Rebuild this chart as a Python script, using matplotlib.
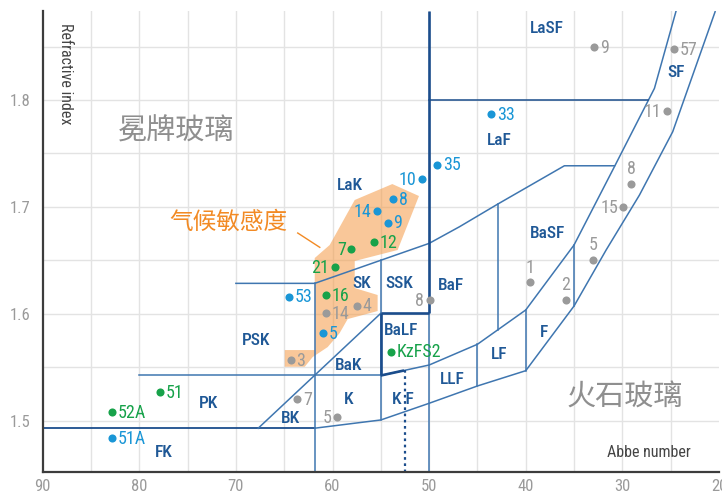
import matplotlib
matplotlib.use("Agg")
import matplotlib.pyplot as plt
from matplotlib import font_manager

# ---------------- data ----------------
XLIM = (90, 20)
YLIM = (1.4523, 1.8833)

# glass points: (label, abbe, nd, label side)
blue_labels = ["51A", "53", "5", "14", "8", "9", "10", "35", "33"]
blue_x = [82.86, 64.50, 60.98, 55.43, 53.74, 54.29, 50.74, 49.15, 43.57]
blue_y = [1.4835, 1.6160, 1.5817, 1.6962, 1.7071, 1.6852, 1.7258, 1.7395, 1.7866]
blue_side = ["r", "r", "r", "l", "r", "r", "l", "r", "r"]

green_labels = ["51", "52A", "7", "12", "21", "16", "KzFS2"]
green_x = [77.87, 82.86, 58.05, 55.71, 59.77, 60.63, 53.91]
green_y = [1.5266, 1.5079, 1.6603, 1.6669, 1.6435, 1.6176, 1.5645]
green_side = ["r", "r", "l", "r", "l", "r", "r"]

gray_labels = ["3", "7", "5", "14", "4", "8", "1", "2", "5", "15", "8", "11", "57", "9"]
gray_x = [64.32, 63.63, 59.53, 60.63, 57.43, 49.95, 39.61, 35.88, 33.06, 29.89, 29.09, 25.37, 24.61, 32.89]
gray_y = [1.5568, 1.5203, 1.5032, 1.6005, 1.6076, 1.6129, 1.6295, 1.6129, 1.6503, 1.6996, 1.7214, 1.7897, 1.8474, 1.8496]
gray_side = ["r", "r", "l", "r", "r", "l", "t", "t", "t", "l", "t", "l", "r", "r"]

# glass family region labels
region_names = ["LaSF", "SF", "LaF", "LaK", "BaSF", "BaF", "SK", "SSK", "PSK", "BaLF",
                "BaK", "K", "K F", "BK", "PK", "FK", "LLF", "LF", "F"]
region_x = [37.78, 24.44, 42.71, 58.22, 37.71, 47.70, 56.95, 53.05, 67.94, 52.87,
            58.29, 58.33, 52.71, 64.35, 72.88, 77.43, 47.60, 42.71, 38.06]
region_y = [1.8671, 1.8255, 1.7626, 1.7205, 1.6753, 1.6269, 1.6279, 1.6279, 1.5755, 1.5842,
            1.5521, 1.5194, 1.5194, 1.5022, 1.5163, 1.4701, 1.5381, 1.5621, 1.5827]

# glass map boundaries (abbe, nd)
fk_x = [90, 61.84]
fk_y = [1.493, 1.493]
lower_x = [61.84, 55, 50, 45, 40, 35, 31.68, 28.23, 24.79, 20.4]
lower_y = [1.493, 1.5007, 1.5163, 1.5325, 1.5468, 1.6073, 1.6597, 1.7111, 1.7703, 1.8826]
upper_x = [55, 50, 45, 40, 35, 31, 26.68, 24.44]
upper_y = [1.5423, 1.5521, 1.5715, 1.6036, 1.6644, 1.7345, 1.8109, 1.8833]
lak_x = [70, 61.84, 50, 46.85, 42.89, 36, 30.82]
lak_y = [1.6285, 1.6285, 1.6659, 1.6815, 1.7027, 1.7385, 1.7385]
pk_x = [80, 55]
pk_y = [1.5423, 1.5423]
bk_x = [67.7, 55]
bk_y = [1.4929, 1.6005]
laf_x = [50, 27.37]
laf_y = [1.80, 1.80]
vert_x = [61.84, 55, 50, 42.89, 45, 40, 35]
vert_y0 = [1.6285, 1.6503, 1.6005, 1.7027, 1.5715, 1.6036, 1.6644]
vert_y1 = [YLIM[0], 1.5007, YLIM[0], 1.5848, 1.5325, 1.5468, 1.6073]
thick_x = [[50, 50], [55, 50], [55, 55], [55, 52.6]]
thick_y = [[YLIM[1], 1.6005], [1.6005, 1.6005], [1.6005, 1.5423], [1.5423, 1.5470]]
dotted_x = [52.53, 52.53]
dotted_y = [1.5472, YLIM[0]]

# climate-sensitive (orange) region
zone_x = [53.81, 51.05, 53.26, 57.70, 57.70, 55.33, 55.33, 58.43, 59.26, 60.5, 62.05,
          62.87, 64.94, 64.94, 61.84, 61.84, 60.29, 57.70]
zone_y = [1.7214, 1.7102, 1.6597, 1.6494, 1.6241, 1.6176, 1.6026, 1.5951, 1.5820, 1.5689, 1.5596,
          1.5505, 1.5505, 1.5661, 1.5661, 1.6522, 1.6644, 1.7065]

# ---------------- fonts ----------------
names = {f.name for f in font_manager.fontManager.ttflist}
cond = "Roboto"
for cand in ["Roboto Condensed", "Liberation Sans Narrow", "Open Sans Condensed", "Noto Sans Condensed"]:
    if cand in names:
        cond = cand
        break
CJK = ["Noto Sans CJK SC", "DejaVu Sans"]

BLUE = "#1a96d6"
GREEN = "#17a24a"
GRAY = "#9a9a9a"
NAVY = "#1f5896"
DARK = "#1b4d8c"
LIGHT = "#3f76b0"

fig = plt.figure(figsize=(7.22, 4.93), dpi=100)
ax = fig.add_axes([0.0591, 0.0432, 0.9367, 0.9345])
ax.set_xlim(*XLIM)
ax.set_ylim(*YLIM)

# grid
for gx in range(85, 20, -5):
    ax.axvline(gx, color="#e3e3e3", lw=1.0, zorder=0)
for i in range(0, 9):
    gy = 1.45 + 0.05 * i
    ax.axhline(gy, color="#e3e3e3", lw=1.0, zorder=0)

ax.set_xticks([90, 80, 70, 60, 50, 40, 30, 20])
ax.set_yticks([1.5, 1.6, 1.7, 1.8])
ax.set_yticklabels(["1.5", "1.6", "1.7", "1.8"])
ax.tick_params(axis="y", length=0, labelsize=12, colors="#9a9a9a", pad=9)
ax.tick_params(axis="x", length=0, labelsize=12, colors="#9a9a9a", pad=5)
for lab in ax.get_xticklabels() + ax.get_yticklabels():
    lab.set_family(cond)
for s in ["top", "right"]:
    ax.spines[s].set_visible(False)
for s in ["left", "bottom"]:
    ax.spines[s].set_color("#3c3c3c")
    ax.spines[s].set_linewidth(1.6)

# orange zone
ax.fill(zone_x, zone_y, color="#f59a45", alpha=0.55, lw=0, zorder=1)

# boundaries
ax.plot(fk_x, fk_y, color=DARK, lw=1.3, zorder=2)
for bx, by in [(lower_x, lower_y), (upper_x, upper_y), (lak_x, lak_y), (pk_x, pk_y), (bk_x, bk_y)]:
    ax.plot(bx, by, color=LIGHT, lw=1.1, zorder=2)
ax.plot(laf_x, laf_y, color=DARK, lw=1.1, zorder=2)
for vx, v0, v1 in zip(vert_x, vert_y0, vert_y1):
    ax.plot([vx, vx], [v0, v1], color=LIGHT, lw=1.1, zorder=2)
for tx, ty in zip(thick_x, thick_y):
    ax.plot(tx, ty, color=DARK, lw=1.9, zorder=3, solid_capstyle="butt")
ax.plot(dotted_x, dotted_y, color=DARK, lw=1.6, ls=(0, (1.2, 1.6)), zorder=2)

# region labels
for name, rx, ry in zip(region_names, region_x, region_y):
    ax.text(rx, ry, name, color=NAVY, fontsize=12.5, family=cond, fontweight="medium",
            ha="center", va="center", zorder=4)

# points
def draw(xs, ys, labels, sides, color):
    ax.scatter(xs, ys, s=34, color=color, zorder=5, linewidths=0)
    for x, y, t, sd in zip(xs, ys, labels, sides):
        if sd == "r":
            off, ha, va = (4, -0.5), "left", "center"
        elif sd == "l":
            off, ha, va = (-4, -0.5), "right", "center"
        else:
            off, ha, va = (0, 4), "center", "bottom"
        ax.annotate(t, (x, y), xytext=off, textcoords="offset points", ha=ha, va=va,
                    color=color, fontsize=13, family=cond, zorder=5)

draw(gray_x, gray_y, gray_labels, gray_side, GRAY)
draw(blue_x, blue_y, blue_labels, blue_side, BLUE)
draw(green_x, green_y, green_labels, green_side, GREEN)

# big Chinese labels
ax.text(76.21, 1.7719, "冕牌玻璃", family=CJK, fontsize=21, color="#8f8f8f", ha="center", va="center")
ax.text(29.78, 1.5212, "火石玻璃", family=CJK, fontsize=21, color="#8f8f8f", ha="center", va="center")
ax.text(70.73, 1.6859, "气候敏感度", family=CJK, fontsize=17, color="#f28a24", ha="center", va="center")
ax.plot([63.6, 61.32], [1.6756, 1.6622], color="#f28a24", lw=1.0, zorder=4)

# axis titles inside plot
ax.text(0.0335, 0.975, "Refractive index", transform=ax.transAxes, rotation=270,
        ha="center", va="top", fontsize=11.5, color="#444444", family=cond)
ax.text(22.96, 1.4700, "Abbe number", ha="right", va="center", fontsize=11.5,
        color="#444444", family=cond)

fig.savefig("out.png", dpi=100)
